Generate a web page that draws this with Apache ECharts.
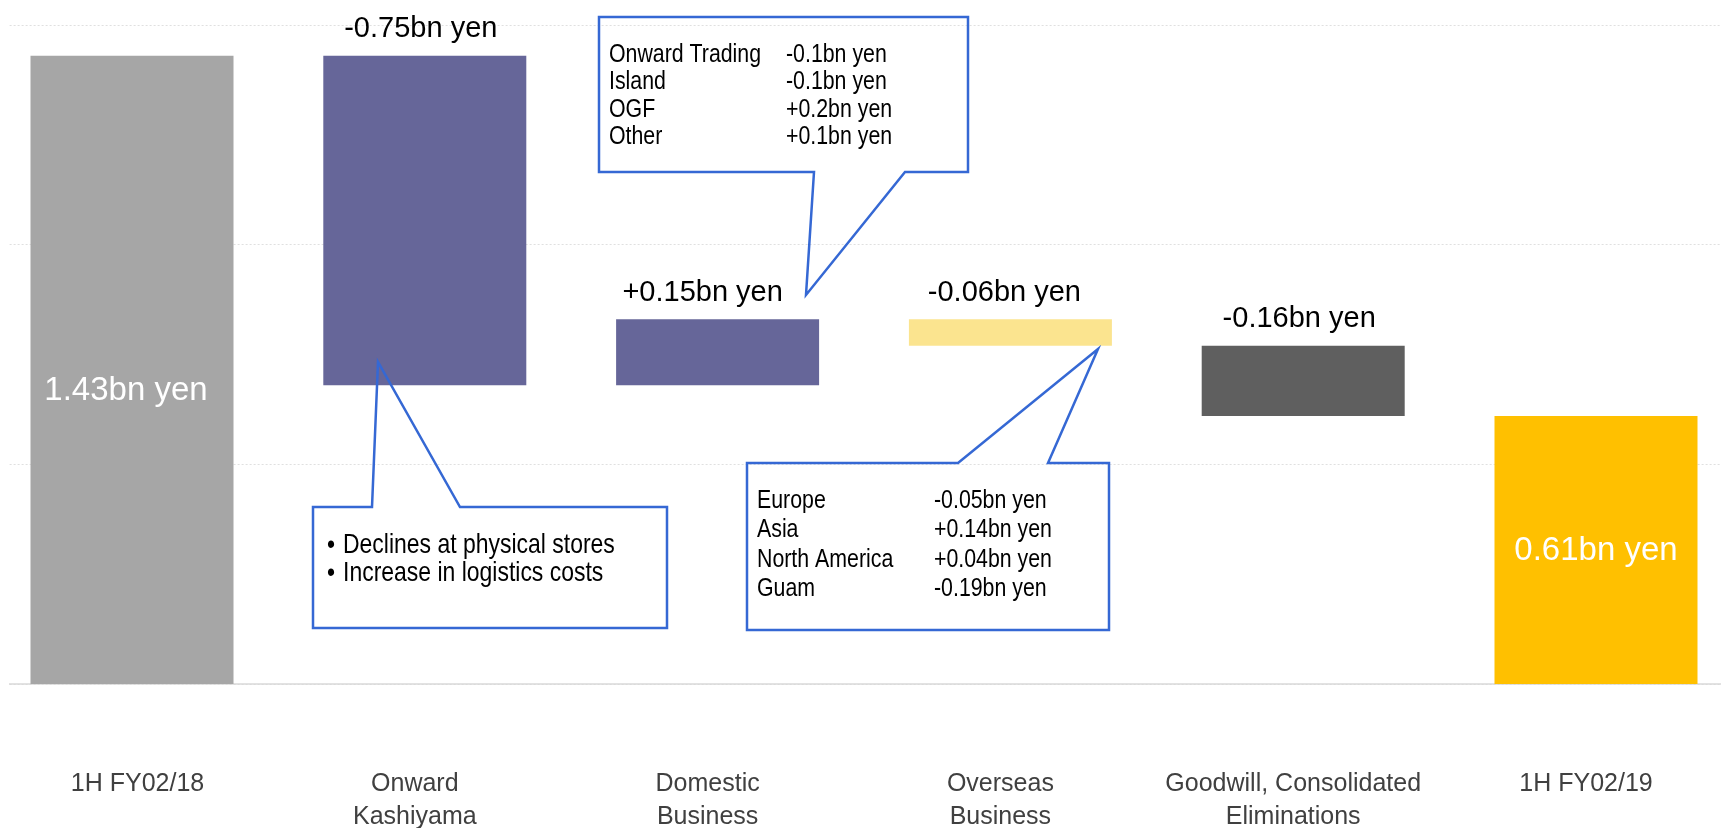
<!DOCTYPE html>
<html>
<head>
<meta charset="utf-8">
<script src="https://cdn.jsdelivr.net/npm/echarts@6/dist/echarts.min.js"></script>
<style>
html,body{margin:0;padding:0;background:#fff;}
#chart{width:1721px;height:828px;}
</style>
</head>
<body>
<div id="chart"></div>
<script>
// ---- data ----
const categories = ['1H FY02/18', 'Onward\nKashiyama', 'Domestic\nBusiness', 'Overseas\nBusiness', 'Goodwill, Consolidated\nEliminations', '1H FY02/19'];
const startValue = 1.43;
const deltas = [-0.75, 0.15, -0.06, -0.16];
const endValue = 0.61;
const yTicks = [0, 0.5, 1.0, 1.5];

const onwardNotes = ['Declines at physical stores', 'Increase in logistics costs'];
const domesticNames = ['Onward Trading', 'Island', 'OGF', 'Other'];
const domesticValues = ['-0.1bn yen', '-0.1bn yen', '+0.2bn yen', '+0.1bn yen'];
const overseasNames = ['Europe', 'Asia', 'North America', 'Guam'];
const overseasValues = ['-0.05bn yen', '+0.14bn yen', '+0.04bn yen', '-0.19bn yen'];

// ---- build waterfall ----
const barColors = ['#A6A6A6', '#666699', '#666699', '#FBE48F', '#5F5F5F', '#FFC000'];
const deltaLabelShift = [-4, -15, -6, -4];
const FONT = "'Liberation Sans', Arial, sans-serif";
const baseData = [0];
const visData = [startValue];
let run = startValue;
deltas.forEach(d => {
  const next = +(run + d).toFixed(4);
  baseData.push(Math.min(run, next));
  visData.push(Math.abs(d));
  run = next;
});
baseData.push(0);
visData.push(endValue);

function fmtDelta(d) { return (d > 0 ? '+' : '') + d.toFixed(2) + 'bn yen'; }

const visItems = visData.map((v, i) => {
  const isTotal = (i === 0 || i === visData.length - 1);
  const item = { value: v, itemStyle: { color: barColors[i] } };
  if (isTotal) {
    item.label = {
      show: true, position: 'inside', color: '#fff', fontSize: 33, fontFamily: FONT,
      formatter: v.toFixed(2) + 'bn yen', offset: i === 0 ? [-6, 21] : [0, 1]
    };
  } else {
    item.label = {
      show: true, position: 'top', distance: 12, color: '#000', fontSize: 29, fontFamily: FONT,
      formatter: fmtDelta(deltas[i - 1]), offset: [deltaLabelShift[i - 1], 0]
    };
  }
  return item;
});

const categoryItems = categories.map((c, i) => ({
  value: c,
  textStyle: { padding: i === 0 ? [0, 0, 0, 11] : [0, 20, 0, 0] }
}));

const chart = echarts.init(document.getElementById('chart'), null, { renderer: 'canvas' });

const blue = '#3568D4';
const SX = 0.82;
function narrowText(text, x, y, size) {
  return { type: 'text', x: x, y: y, scaleX: SX, z: 100,
    style: { text: text, font: size + 'px ' + FONT, fill: '#000', verticalAlign: 'middle', align: 'left' } };
}
function calloutTexts(names, values, xName, xVal, ys, size) {
  const out = [];
  names.forEach((n, i) => {
    out.push(narrowText(n, xName, ys[i], size));
    if (values) out.push(narrowText(values[i], xVal, ys[i], size));
  });
  return out;
}

const graphics = [
  { type: 'rect', shape: { x: 0, y: 0, width: 9, height: 700 }, style: { fill: '#fff' }, z: 50 },
  { type: 'polygon', z: 90, shape: { points: [[313,507],[372,507],[378,362],[460,507],[667,507],[667,628],[313,628]] },
    style: { fill: null, stroke: blue, lineWidth: 2.5 } },
  { type: 'polygon', z: 90, shape: { points: [[599,17],[968,17],[968,172],[905,172],[806,295],[814,172],[599,172]] },
    style: { fill: null, stroke: blue, lineWidth: 2.5 } },
  { type: 'polygon', z: 90, shape: { points: [[747,463],[958,463],[1098,349],[1048,463],[1109,463],[1109,630],[747,630]] },
    style: { fill: null, stroke: blue, lineWidth: 2.5 } }
];
onwardNotes.forEach((t, i) => {
  const y = [545, 573][i];
  graphics.push(narrowText('\u2022', 327, y, 28));
  graphics.push(narrowText(t, 343, y, 28));
});
graphics.push(...calloutTexts(domesticNames, domesticValues, 609, 786, [55, 82, 110, 137], 26));
graphics.push(...calloutTexts(overseasNames, overseasValues, 757, 934, [501, 530, 560, 589], 26));

chart.setOption({
  animation: false,
  backgroundColor: '#fff',
  grid: { left: -14.4, right: -21.4, top: 25, bottom: 144, containLabel: false, outerBoundsMode: 'none' },
  xAxis: {
    type: 'category', data: categoryItems,
    axisLine: { show: true, lineStyle: { color: '#D9D9D9', width: 1.5 } },
    axisTick: { show: false },
    axisLabel: { margin: 84, color: '#404040', fontSize: 25, lineHeight: 33, fontFamily: FONT, interval: 0 }
  },
  yAxis: {
    type: 'value', min: yTicks[0], max: yTicks[yTicks.length - 1], interval: yTicks[1] - yTicks[0],
    axisLabel: { show: false }, axisLine: { show: false }, axisTick: { show: false },
    splitLine: { show: true, lineStyle: { color: '#E0E0E0', type: [2, 2], width: 1 } }
  },
  series: [
    { type: 'bar', stack: 'w', data: baseData, barWidth: 203, itemStyle: { color: 'transparent' }, silent: true },
    { type: 'bar', stack: 'w', data: visItems, barWidth: 203 }
  ],
  graphic: graphics
});
</script>
</body>
</html>
